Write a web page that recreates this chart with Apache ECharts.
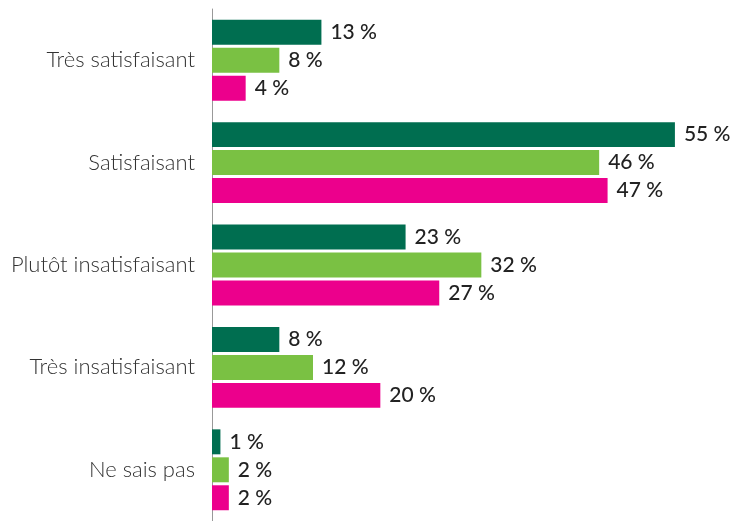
<!DOCTYPE html>
<html>
<head>
<meta charset="utf-8">
<script src="https://cdn.jsdelivr.net/npm/echarts@6/dist/echarts.min.js"></script>
<style>
    html, body { margin: 0; padding: 0; background: #fff; }
    #chart { width: 732px; height: 521px; }
</style>
</head>
<body>
<div id="chart"></div>
<script>
    // categories (top to bottom)
    var categories = ['Très satisfaisant', 'Satisfaisant', 'Plutôt insatisfaisant', 'Très insatisfaisant', 'Ne sais pas']
    // three series, in %
    var serieA = [13, 55, 23, 8, 1]
    var serieB = [8, 46, 32, 12, 2]
    var serieC = [4, 47, 27, 20, 2]
    var colors = ['#006e50', '#7ac143', '#ec008c']

    var myChart = echarts.init(document.getElementById('chart'))

    function makeSeries(data, i) {
        return {
            type: 'bar',
            data: data,
            barGap: '12%',
            barCategoryGap: '21%',
            itemStyle: { color: colors[i] },
            label: {
                show: true,
                position: 'right',
                distance: 9,
                formatter: '{c} %',
                fontFamily: 'Lato',
                fontSize: 21,
                fontWeight: 500,
                color: '#222'
            }
        }
    }

    var option = {
        animation: false,
        grid: { left: 212, right: 15, top: 9, bottom: -5, containLabel: false },
        xAxis: {
            type: 'value',
            min: 0,
            max: 60,
            show: false
        },
        yAxis: {
            type: 'category',
            data: categories,
            inverse: true,
            axisLine: { show: true, lineStyle: { color: '#999', width: 1 } },
            axisTick: { show: false },
            axisLabel: {
                margin: 17,
                fontFamily: 'Lato',
                fontSize: 22,
                fontWeight: 300,
                color: '#333'
            }
        },
        series: [makeSeries(serieA, 0), makeSeries(serieB, 1), makeSeries(serieC, 2)]
    }
    myChart.setOption(option)
</script>
</body>
</html>
